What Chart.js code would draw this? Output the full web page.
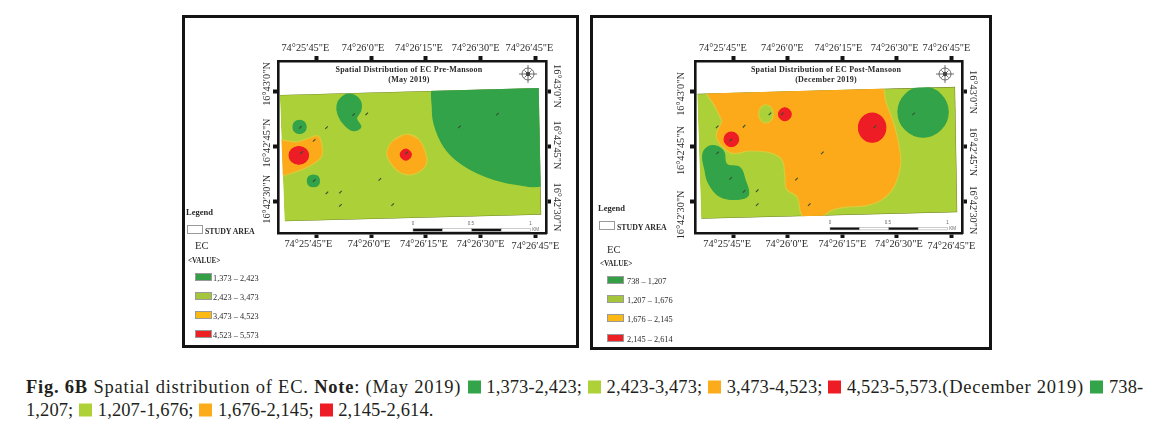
<!DOCTYPE html>
<html>
<head>
<meta charset="utf-8">
<script src="https://cdn.jsdelivr.net/npm/chart.js@4"></script>
<style>
  html, body { margin:0; padding:0; background:#fff; width:1170px; height:427px; overflow:hidden; }
  body { font-family:"Liberation Serif", serif; color:#222; position:relative; }
  .frame { position:absolute; border:3px solid #141414; box-sizing:border-box; }
  canvas { position:absolute; filter:blur(.35px); }
  .lbl { position:absolute; white-space:nowrap; transform:translateY(-50%); color:#2a2a2a; filter:blur(.25px); }
  .swatch { position:absolute; box-sizing:border-box; border:1px solid #9a9a9a; }
  .cap { position:absolute; left:26px; white-space:nowrap; font-size:18.5px; letter-spacing:.1px; color:#231f20; transform:translateY(-50%); }
  .cap i { display:inline-block; width:13px; height:13px; vertical-align:-1px; margin:0 1px 0 1px; }
  .cap .wide { letter-spacing:.78px; }
</style>
</head>
<body>
<div class="frame" style="left:182px;top:15px;width:397px;height:333px"></div>
<div class="frame" style="left:590px;top:15px;width:402px;height:335px"></div>
<canvas id="mapMay" width="393" height="328" style="left:184px;top:18px"></canvas>
<canvas id="mapDec" width="396" height="330" style="left:593px;top:18px"></canvas>
<div id="legends"></div>
<div class="cap" style="top:387px"><span class="wide"><b>Fig. 6B</b> Spatial distribution of EC. <b>Note</b>: (May 2019) </span><i style="background:#33a449"></i> 1,373-2,423; <i style="background:#add136"></i> 2,423-3,473; <i style="background:#fcac1b"></i> 3,473-4,523; <i style="background:#ee1c25"></i> 4,523-5,573.<span class="wide">(December 2019) </span><i style="background:#33a449"></i> 738-</div>
<div class="cap" style="top:410px">1,207; <i style="background:#add136"></i> 1,207-1,676; <i style="background:#fcac1b"></i> 1,676-2,145; <i style="background:#ee1c25"></i> 2,145-2,614.</div>

<script>
// all map data is [lon seconds past 74deg, lat seconds past 16deg] (25'45" = 1545, 43'0" = 2580)
const lonLabels = ['74°25′45"E', '74°26′0"E', '74°26′15"E', '74°26′30"E', '74°26′45"E'];
const latLabels = ['16°42′30"N', '16°42′45"N', '16°43′0"N'];

const legendMay = ['1,373 – 2,423', '2,423 – 3,473', '3,473 – 4,523', '4,523 – 5,573'];
const legendDec = ['738 – 1,207', '1,207 – 1,676', '1,676 – 2,145', '2,145 – 2,614'];

const GREEN = '#33a349', LIME = '#acd037', ORANGE = '#fcaa1a', RED = '#ee1c25';

// May 2019
const areaMay = [[1535.0,2579.2],[1605.9,2581.1],[1606.6,2546.3],[1536.3,2544.5]];
const greenEastMay = [[1578.0,2581.9],[1576.8,2575.0],[1577.8,2569.5],[1580.7,2564.0],[1585.3,2559.9],[1591.7,2556.7],[1599.0,2554.8],[1607.3,2554.6],[1607.8,2560],[1607.8,2582]];
const greenNorthMay = [[1554.2,2579.4],[1556.9,2577.8],[1557.2,2575.0],[1556.0,2572.7],[1557.2,2570.4],[1555.1,2569.4],[1552.8,2570.9],[1551.0,2573.7],[1550.7,2576.4],[1551.9,2578.5]];
const greenSmallA = [[1540.4,2572.2],[1541.7,2571.7],[1542.2,2570.4],[1541.7,2569.1],[1540.4,2568.6],[1539.1,2569.1],[1538.6,2570.4],[1539.1,2571.7]];
const greenSmallB = [[1544.2,2557.2],[1545.4,2556.8],[1545.85,2555.6],[1545.4,2554.4],[1544.2,2554.0],[1543.0,2554.4],[1542.55,2555.6],[1543.0,2556.8]];
const orangeWestMay = [[1534.5,2566.3],[1539.5,2566.3],[1542.7,2567.2],[1545.5,2567.9],[1546.6,2564.9],[1546.4,2562.2],[1543.6,2559.9],[1539.5,2558.1],[1535.8,2557.0],[1534.5,2557.0]];
const redWestMay = [[1540.2,2565.0],[1542.1,2564.3],[1542.85,2562.6],[1542.1,2560.9],[1540.2,2560.2],[1538.3,2560.9],[1537.55,2562.6],[1538.3,2564.3]];
const orangeMidMay = [[1569.7,2568.4],[1572.9,2567.2],[1575.0,2563.1],[1575.0,2559.9],[1571.6,2557.4],[1567.9,2557.9],[1565.1,2560.8],[1564.3,2563.6],[1566.1,2566.8]];
const redMidMay = [[1569.5,2564.3],[1570.5,2563.8],[1571.0,2562.8],[1570.5,2561.8],[1569.5,2561.3],[1568.5,2561.8],[1568.0,2562.8],[1568.5,2563.8]];
const wellsMay = [[1584.2,2570.4],[1594.6,2573.9],[1555.2,2573.8],[1558.8,2574.0],[1547.8,2570.2],[1540.6,2570.3],[1544.4,2566.7],[1541.0,2563.4],[1569.7,2563.3],[1562.4,2556.0],[1544.4,2555.7],[1547.9,2552.3],[1551.6,2552.5],[1551.6,2548.9],[1565.9,2549.1]];

// December 2019
const areaDec = [[1535.1,2579.5],[1606.0,2581.4],[1606.6,2547.0],[1536.2,2545.2]];
const orangeDec = [[1538.3,2580.5],[1585.1,2581.9],[1587.1,2576.9],[1589.4,2570.6],[1590.8,2564.2],[1591.0,2559.7],[1589.4,2554.3],[1586.2,2550.6],[1581.6,2548.8],[1576.1,2548.4],[1572.0,2547.5],[1569.7,2545.9],[1565.1,2544.3],[1563.5,2547.0],[1562.6,2551.1],[1559.6,2553.4],[1559.2,2557.0],[1558.3,2561.5],[1555.1,2563.3],[1549.6,2563.8],[1545.0,2563.1],[1542.3,2564.7],[1540.4,2567.4],[1540.9,2570.1],[1541.8,2571.9],[1540.4,2575.1]];
const greenWestDec = [[1539.5,2565.3],[1542.3,2563.8],[1543.2,2560.2],[1546.8,2559.3],[1548.2,2556.1],[1549.1,2551.6],[1545.0,2550.5],[1540.9,2551.6],[1538.1,2555.2],[1537.2,2558.8],[1536.6,2562.0],[1537.2,2564.2]];
const greenEastDec = [[1597.2,2581.4],[1602.05,2579.35],[1604.1,2574.5],[1602.05,2569.65],[1597.2,2567.6],[1592.35,2569.65],[1590.3,2574.5],[1592.35,2579.35]];
const limeIsleDec = [[1554,2576.5],[1555.4,2575.8],[1556,2574],[1555.4,2572.2],[1554,2571.5],[1552.6,2572.2],[1552,2574],[1552.6,2575.8]];
const redNorthDec = [[1559.2,2575.65],[1560.4,2575.1],[1560.95,2573.9],[1560.4,2572.7],[1559.2,2572.15],[1558,2572.7],[1557.45,2573.9],[1558,2575.1]];
const redWestDec = [[1544.5,2569],[1545.9,2568.4],[1546.5,2567],[1545.9,2565.6],[1544.5,2565],[1543.1,2565.6],[1542.5,2567],[1543.1,2568.4]];
const redEastDec = [[1583.2,2574.2],[1585.85,2573],[1586.95,2570.2],[1585.85,2567.4],[1583.2,2566.2],[1580.55,2567.4],[1579.45,2570.2],[1580.55,2573]];
const wellsDec = [[1594.6,2574.0],[1583.9,2570.4],[1569.5,2563.3],[1562.4,2556.1],[1565.9,2549.1],[1548.0,2570.6],[1540.6,2570.4],[1544.3,2566.8],[1540.7,2563.3],[1544.3,2556.3],[1548.0,2552.7],[1551.6,2552.9],[1551.6,2549.1],[1555.1,2574.0],[1558.5,2574.0]];

const pts = arr => arr.map(([x, y]) => ({ x, y }));
// wrap around so the bezier has no corner where the outline closes
const loop = arr => pts([arr[arr.length - 1], ...arr, arr[0], arr[1]]);

function regionSet(area, regions, wells) {
  const out = [{ data: pts(area), showLine:true, tension:0, fill:'shape', backgroundColor:LIME, borderColor:'#6e7f2c', borderWidth:1, pointRadius:0 }];
  regions.forEach(([shape, color, edge]) => out.push({
    data: loop(shape), showLine:true, tension:.4, fill:'shape', backgroundColor:color, borderColor:edge, borderWidth:1.2, pointRadius:0
  }));
  out.push({ data: pts(wells), showLine:false, pointStyle:'line', rotation:-45, pointRadius:1.8, pointBorderColor:'#33502f', pointBorderWidth:1.1 });
  // first dataset paints first, so higher order for earlier entries
  out.forEach((d, i) => { d.order = out.length - i; });
  return out;
}

// Everything the library has no axis option for: rotated lat labels, map title, compass, scale bar
const furniture = {
  id:'furniture',
  beforeDatasetsDraw(chart, args, o) {
    const { ctx, scales:{ x, y } } = chart;
    ctx.save();
    ctx.beginPath();
    o.area.forEach(([a, b], i) => {
      const px = x.getPixelForValue(a), py = y.getPixelForValue(b);
      i ? ctx.lineTo(px, py) : ctx.moveTo(px, py);
    });
    ctx.closePath();
    ctx.clip();
  },
  afterDatasetsDraw(chart) { chart.ctx.restore(); },
  afterDraw(chart, args, o) {
    const { ctx, chartArea:a, scales:{ x, y } } = chart;
    ctx.save();
    ctx.fillStyle = '#2a2a2a';
    ctx.font = '10.3px "Liberation Serif"';
    ctx.textAlign = 'center';
    ctx.textBaseline = 'middle';

    lonLabels.forEach((t, i) => {
      const px = x.getPixelForValue(1545 + i * 15);
      ctx.fillText(t, px + o.topDx[i], a.top - 13);
      ctx.fillText(t, px + o.bottomDx[i], a.bottom + 11 + (i === 4 ? 2 : 0));
    });
    latLabels.forEach((t, i) => {
      const py = y.getPixelForValue(2550 + i * 15);
      ctx.save();
      ctx.translate(a.left - o.leftGap, py + o.leftDy[i]);
      ctx.rotate(-Math.PI / 2);
      ctx.fillText(t, 0, 0);
      ctx.restore();
      ctx.save();
      ctx.translate(a.right + 11, py + o.rightDy[i]);
      ctx.rotate(Math.PI / 2);
      ctx.fillText(t, 0, 0);
      ctx.restore();
    });

    // title
    ctx.font = 'bold 8px "Liberation Serif"';
    ctx.letterSpacing = '.25px';
    ctx.fillText(o.title[0], o.titleX, a.top + 9);
    ctx.fillText(o.title[1], o.titleX, a.top + 18.5);
    ctx.letterSpacing = '0px';

    // compass
    const cx = a.left + 250, cy = a.top + 13;
    ctx.strokeStyle = '#333';
    ctx.lineWidth = .7;
    ctx.beginPath(); ctx.arc(cx, cy, 6, 0, Math.PI * 2); ctx.stroke();
    ctx.beginPath();
    for (let k = 0; k < 8; k++) {
      const r = k % 2 ? 5 : 9, t = k * Math.PI / 4;
      ctx.moveTo(cx, cy);
      ctx.lineTo(cx + Math.cos(t) * r, cy + Math.sin(t) * r);
    }
    ctx.stroke();
    ctx.beginPath(); ctx.arc(cx, cy, 2.2, 0, Math.PI * 2); ctx.fillStyle = '#444'; ctx.fill();

    // scale bar
    const bx = a.left + 135, by = a.bottom - o.barRise, seg = 29.4;
    for (let k = 0; k < 4; k++) {
      ctx.fillStyle = k % 2 ? '#fff' : '#111';
      ctx.fillRect(bx + k * seg, by, seg, 2.6);
      ctx.strokeStyle = '#999';
      ctx.lineWidth = .5;
      ctx.strokeRect(bx + k * seg, by, seg, 2.6);
    }
    ctx.fillStyle = '#666';
    ctx.font = '4.5px "Liberation Sans"';
    ctx.fillText('0', bx, by - 5);
    ctx.fillText('0.5', bx + 2 * seg - 1, by - 5);
    ctx.fillText('1', bx + 4 * seg, by - 5);
    ctx.fillText('KM', bx + 4 * seg + 5, by + 1);
    ctx.restore();
  }
};

function fixed(size) { return scale => { if (scale.isHorizontal()) scale.height = size; else scale.width = size; }; }

function axis(extra, min, max) {
  return Object.assign({
    type:'linear', min, max,
    afterFit: fixed(5),
    border:{ display:true, color:'#141414', width:2.6 },
    grid:{ drawOnChartArea:false, drawTicks:true, tickLength:5, tickWidth:4, tickColor:'#141414' },
    ticks:{ display:false, stepSize:15, includeBounds:false }
  }, extra);
}

function drawMap(id, datasets, padding, opts) {
  return new Chart(document.getElementById(id), {
    type:'scatter',
    data:{ datasets },
    plugins:[furniture],
    options:{
      responsive:false,
      animation:false,
      layout:{ padding },
      elements:{ point:{ hitRadius:0 } },
      scales:{
        x: axis({ position:'bottom' }, 1534.5, 1607.9),
        xTop: axis({ axis:'x', position:'top' }, 1534.5, 1607.9),
        y: axis({ position:'left' }, 2541.3, 2588.5),
        yRight: axis({ axis:'y', position:'right' }, 2541.3, 2588.5)
      },
      plugins:{ legend:{ display:false }, tooltip:{ enabled:false }, furniture:opts }
    }
  });
}

drawMap('mapMay', regionSet(areaMay, [
  [greenEastMay, GREEN, GREEN],
  [greenNorthMay, GREEN, GREEN],
  [greenSmallA, GREEN, GREEN],
  [greenSmallB, GREEN, GREEN],
  [orangeWestMay, ORANGE, '#d8cc3a'],
  [redWestMay, RED, RED],
  [orangeMidMay, ORANGE, '#d8cc3a'],
  [redMidMay, RED, RED]
], wellsMay), { left:89, right:26, top:38, bottom:108 }, {
  area:areaMay, title:['Spatial Distribution of EC Pre-Mansoon', '(May 2019)'], titleX:225,
  topDx:[-11,-8,-7,-5,-6], bottomDx:[-8,-2,-2,0,0],
  leftGap:11, leftDy:[-2,-3.7,-8], rightDy:[5.7,-1.7,-6], barRise:4.3
});

drawMap('mapDec', regionSet(areaDec, [
  [orangeDec, ORANGE, '#d8cc3a'],
  [greenWestDec, GREEN, GREEN],
  [greenEastDec, GREEN, GREEN],
  [limeIsleDec, LIME, '#d8cc3a'],
  [redNorthDec, RED, RED],
  [redWestDec, RED, RED],
  [redEastDec, RED, RED]
], wellsDec), { left:97, right:22, top:38, bottom:110 }, {
  area:areaDec, title:['Spatial Distribution of EC Post-Mansoon', '(December 2019)'], titleX:233,
  topDx:[-10.4,-5.4,-4,-2.3,-5], bottomDx:[-6,-1,0,2,0],
  leftGap:13.3, leftDy:[13.6,4,2], rightDy:[8.6,5,0], barRise:5.7
});

// Legends sit beside the maps as plain text
const legendColors = ['#33a046', '#a5c63b', '#fdb913', '#ed2024'];
const host = document.getElementById('legends');
function label(text, x, y, size, bold) {
  const d = document.createElement('div');
  d.className = 'lbl';
  d.textContent = text;
  d.style.cssText = `left:${x}px;top:${y}px;font-size:${size}px;${bold ? 'font-weight:bold;' : ''}`;
  host.appendChild(d);
}
function box(x, y, w, h, color) {
  const d = document.createElement('div');
  d.className = 'swatch';
  d.style.cssText = `left:${x}px;top:${y}px;width:${w}px;height:${h}px;background:${color};`;
  host.appendChild(d);
}
function legendBlock(items, p) {
  label('Legend', p.x, p.legendY, 8.5, true);
  box(p.x + 0.5, p.boxY, 16, 8.5, '#fff');
  label('STUDY AREA', p.x + 19, p.boxY + 6, 7.8, true);
  label('EC', p.x + 9, p.ecY, 10.5);
  label('<VALUE>', p.x + 2, p.valueY, 7.2, true);
  items.forEach((t, i) => {
    box(p.x + 9, p.swatchY[i], 16.5, 8, legendColors[i]);
    label(t, p.x + p.textDx, p.swatchY[i] + 5, 8.3);
  });
}
legendBlock(legendMay, { x:186, legendY:212, boxY:225, ecY:245, valueY:261, swatchY:[272.5,291.5,311,330], textDx:27 });
legendBlock(legendDec, { x:598, legendY:208, boxY:221, ecY:249, valueY:264, swatchY:[276,295,314,333.5], textDx:29 });
</script>
</body>
</html>
